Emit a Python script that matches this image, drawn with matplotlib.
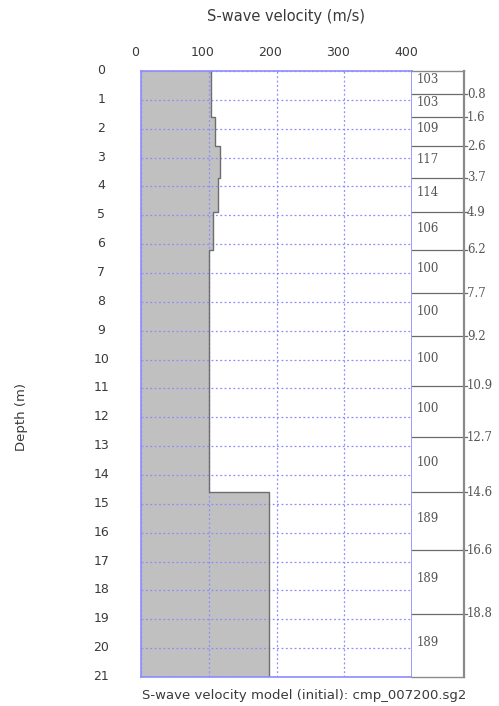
import matplotlib.pyplot as plt
import numpy as np
from matplotlib.transforms import ScaledTranslation

# layer model
depth_top = [0.0, 0.8, 1.6, 2.6, 3.7, 4.9, 6.2, 7.7, 9.2, 10.9, 12.7, 14.6, 16.6, 18.8]
depth_bottom = 21.0
vs = [103, 103, 109, 117, 114, 106, 100, 100, 100, 100, 100, 189, 189, 189]
vs_labels = ['103', '103', '109', '117', '114', '106', '100', '100', '100', '100', '100', '189', '189', '189']
boundary_labels = ['0.8', '1.6', '2.6', '3.7', '4.9', '6.2', '7.7', '9.2', '10.9', '12.7', '14.6', '16.6', '18.8']
x_ticks = [0, 100, 200, 300, 400]
y_ticks = list(range(0, 22))

blue = '#8c8cff'
txt = '#3a3a3a'

fig = plt.figure(figsize=(4.99, 7.06), dpi=100)
ax = fig.add_axes([141/499, 1 - 677/706, 271/499, 606/706])

# profile outline: each layer is a vertical segment at its velocity
edges = np.array(depth_top + [depth_bottom])
ys = np.repeat(edges, 2)[1:-1]
xs = np.repeat(np.array(vs), 2)
ax.fill_betweenx(ys, 0, xs, facecolor='#c0c0c0', edgecolor='none', zorder=1)
ax.plot(xs, ys, color='#6e6e6e', lw=1.0, zorder=2)

ax.set_xlim(0, 400)
ax.set_ylim(21, 0)
ax.set_xticks(x_ticks)
ax.set_yticks(y_ticks)
ax.xaxis.tick_top()
ax.tick_params(axis='both', length=0, labelsize=9, labelcolor=txt)
ax.tick_params(axis='x', pad=9)
ax.tick_params(axis='y', pad=30)
for lbl in ax.get_xticklabels():
    lbl.set_transform(lbl.get_transform() + ScaledTranslation(-6/100, 0, fig.dpi_scale_trans))
for lbl in ax.get_yticklabels():
    lbl.set_horizontalalignment('center')
    lbl.set_transform(lbl.get_transform() + ScaledTranslation(2/100, 2/100, fig.dpi_scale_trans))
ax.grid(True, color=blue, linestyle=(0, (1.5, 2)), lw=0.9, zorder=3)
for s in ax.spines.values():
    s.set_color(blue)
    s.set_linewidth(1.2)
    s.set_zorder(4)

# layer column
lx = fig.add_axes([412/499, 1 - 677/706, 52/499, 606/706])
lx.set_xlim(0, 1)
lx.set_ylim(21, 0)
lx.set_xticks([])
lx.set_yticks([])
for name, s in lx.spines.items():
    s.set_color('#8a8a8a')
    s.set_linewidth(1.0)
lx.spines['right'].set_linewidth(1.6)
lx.spines['left'].set_visible(False)
for d in depth_top[1:]:
    lx.plot([0, 1.06], [d, d], color='#6a6a6a', lw=0.9, clip_on=False)
for i, lab in enumerate(vs_labels):
    top = depth_top[i]
    bot = depth_top[i + 1] if i + 1 < len(depth_top) else depth_bottom
    lx.text(0.08, (top + bot) / 2 - 0.1, lab, family='DejaVu Serif', fontsize=8.5,
            color='#555555', ha='left', va='center')
for d, lab in zip(depth_top[1:], boundary_labels):
    lx.text(1.06, d, lab, family='DejaVu Serif', fontsize=8.5, color='#555555',
            ha='left', va='center', clip_on=False)

fig.text(286/499, 1 - 16/706, 'S-wave velocity (m/s)', fontsize=10.5, color=txt, ha='center', va='center')
fig.text(22/499, 1 - 417/706, 'Depth (m)', fontsize=9.5, color=txt, rotation=90, ha='center', va='center')
fig.text(142/499, 1 - 695/706, 'S-wave velocity model (initial): cmp_007200.sg2', fontsize=9.5,
         color=txt, ha='left', va='center')

fig.savefig('out.png', dpi=100)
